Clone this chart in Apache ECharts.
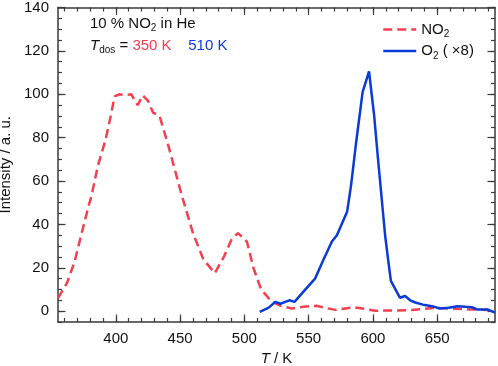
<!DOCTYPE html>
<html>
<head>
<meta charset="utf-8">
<script src="https://cdn.jsdelivr.net/npm/echarts@6/dist/echarts.min.js"></script>
<style>html,body{margin:0;padding:0;background:#fff;}#c{width:498px;height:366px;}</style>
</head>
<body>
<div id="c"></div>
<script>
// NO2 trace (temperature K, intensity a.u.)
var no2T = [355,358,362,368,373,379,381,386,392,396,399,403,407,412,417,421,425,429,434,441,446,451,454,460,468,477,484,490,495,502,507,513,521,528,537,546,556,563,571,585,594,602,615,630,647,660,675,695];
var no2I = [6,9,13,23,35,49,53,67,79,90,99,100,99.5,100,95,99.5,97,91.5,90,76,65,54,48,36,24,17.5,25,33,36,32,20,10,4.5,2.5,1.2,2,2.5,1.5,0.6,1.8,1,0.2,0.3,0.5,1.5,1.2,0.8,0.5];
// O2 trace (x8)
var o2T = [512,519,524,528,535,539,546,555,561,568,572,580,583,587,592,597,601,604,609.5,612,614,621,625,629,633,639,646,652,659,666,672,677,681,689,695];
var o2I = [-0.3,1.6,4.3,3.4,5,4.3,9,15,23,32,35,46,58,78,101,110.5,90,70,35,23,14,6.2,7,5,4,3,2.3,1.2,1.6,2.3,2,1.8,0.8,0.8,-0.7];
// axis ticks
var xLabels = [400,450,500,550,600,650];
var yLabels = [0,20,40,60,80,100,120,140];
var xMin = 355, xMax = 695, yMin = -5, yMax = 140;

function range(a,b,s){var r=[];for(var v=a;v<=b+1e-9;v+=s)r.push(v);return r;}
var xMinor = range(360,690,10);
var yMinor = range(-5,140,5);

var font = '"Liberation Sans", Arial, Helvetica, sans-serif';
var axisColor = '#3a3a3a';
var red = '#f2404f', blue = '#0b3bd6';

function pair(a,b){return a.map(function(v,i){return [v,b[i]];});}

function xAx(pos, ticks, len, labels, line){
  return {type:'value', gridIndex:0, position:pos, min:xMin, max:xMax,
    axisLine:{show:line, onZero:false, lineStyle:{color:axisColor,width:1.5}},
    axisTick:{show:true, inside:true, length:len, customValues:ticks, lineStyle:{color:axisColor,width:1.2}},
    axisLabel:{show:!!labels, customValues:labels||[], margin:9, color:'#111', fontSize:15, fontFamily:font},
    splitLine:{show:false}};
}
function yAx(pos, ticks, len, labels, line){
  return {type:'value', gridIndex:0, position:pos, min:yMin, max:yMax,
    axisLine:{show:line, onZero:false, lineStyle:{color:axisColor,width:1.5}},
    axisTick:{show:true, inside:true, length:len, customValues:ticks, lineStyle:{color:axisColor,width:1.2}},
    axisLabel:{show:!!labels, customValues:labels||[], margin:9, color:'#111', fontSize:15, fontFamily:font},
    splitLine:{show:false}};
}

var xa0 = xAx('bottom', xMinor, 4, xLabels, true);
xa0.name = '{i|T} / K';
xa0.nameLocation = 'middle';
xa0.nameGap = 27;
xa0.nameTextStyle = {color:'#111', fontSize:15, fontFamily:font, rich:{i:{fontStyle:'italic', fontSize:15, fontFamily:font, color:'#111'}}};
var ya0 = yAx('left', yMinor, 4, yLabels, true);
ya0.name = 'Intensity / a. u.';
ya0.nameLocation = 'middle';
ya0.nameGap = 39;
ya0.nameTextStyle = {color:'#111', fontSize:15, fontFamily:font};

var chart = echarts.init(document.getElementById('c'), null, {renderer:'canvas'});
chart.setOption({
  animation:false,
  backgroundColor:'#fff',
  grid:{left:58, right:3, top:7.5, bottom:44, containLabel:false, outerBoundsMode:'none'},
  xAxis:[xa0, xAx('bottom', xLabels, 7.5, null, false), xAx('top', xMinor, 4, null, true), xAx('top', xLabels, 7.5, null, false)],
  yAxis:[ya0, yAx('left', yLabels, 7.5, null, false), yAx('right', yMinor, 4, null, true), yAx('right', yLabels, 7.5, null, false)],
  legend:{orient:'vertical', left:377, top:17, itemWidth:33, itemHeight:14, itemGap:4,
    itemStyle:{opacity:0}, lineStyle:{width:2.5},
    textStyle:{fontSize:15, fontFamily:font, color:'#111', rich:{s:{fontSize:10, fontFamily:font, color:'#111', verticalAlign:'bottom', lineHeight:9}, n:{fontSize:15, fontFamily:font, color:'#111', lineHeight:20}}},
    formatter:function(n){ return n==='NO2' ? '{n|NO}{s|2}' : '{n|O}{s|2}{n| ( ×8)}'; },
    data:['NO2','O2']},
  series:[
    {name:'NO2', type:'line', xAxisIndex:0, yAxisIndex:0, data:pair(no2T,no2I), showSymbol:false, symbol:'none',
      lineStyle:{color:red, width:2.5, type:[9,5]}, itemStyle:{color:red}},
    {name:'O2', type:'line', xAxisIndex:0, yAxisIndex:0, data:pair(o2T,o2I), showSymbol:false, symbol:'none',
      lineStyle:{color:blue, width:2.5}, itemStyle:{color:blue}}
  ],
  graphic:[
    {type:'text', left:90, top:16, style:{
      text:'{n|10 % NO}{s|2}{n| in He}',
      rich:{n:{fontSize:15, fontFamily:font, fill:'#111', lineHeight:20}, s:{fontSize:10, fontFamily:font, fill:'#111', verticalAlign:'bottom', lineHeight:9}}}},
    {type:'text', left:90, top:38, style:{
      text:'{i|T}{s|dos}{n| = }{r|350 K}{n|    }{b|510 K}',
      rich:{n:{fontSize:15, fontFamily:font, fill:'#111', lineHeight:20}, i:{fontSize:15, fontFamily:font, fontStyle:'italic', fill:'#111', lineHeight:20},
        s:{fontSize:10, fontFamily:font, fill:'#111', verticalAlign:'bottom', lineHeight:9},
        r:{fontSize:15, fontFamily:font, fill:red, lineHeight:20}, b:{fontSize:15, fontFamily:font, fill:blue, lineHeight:20}}}}
  ]
});
</script>
</body>
</html>
